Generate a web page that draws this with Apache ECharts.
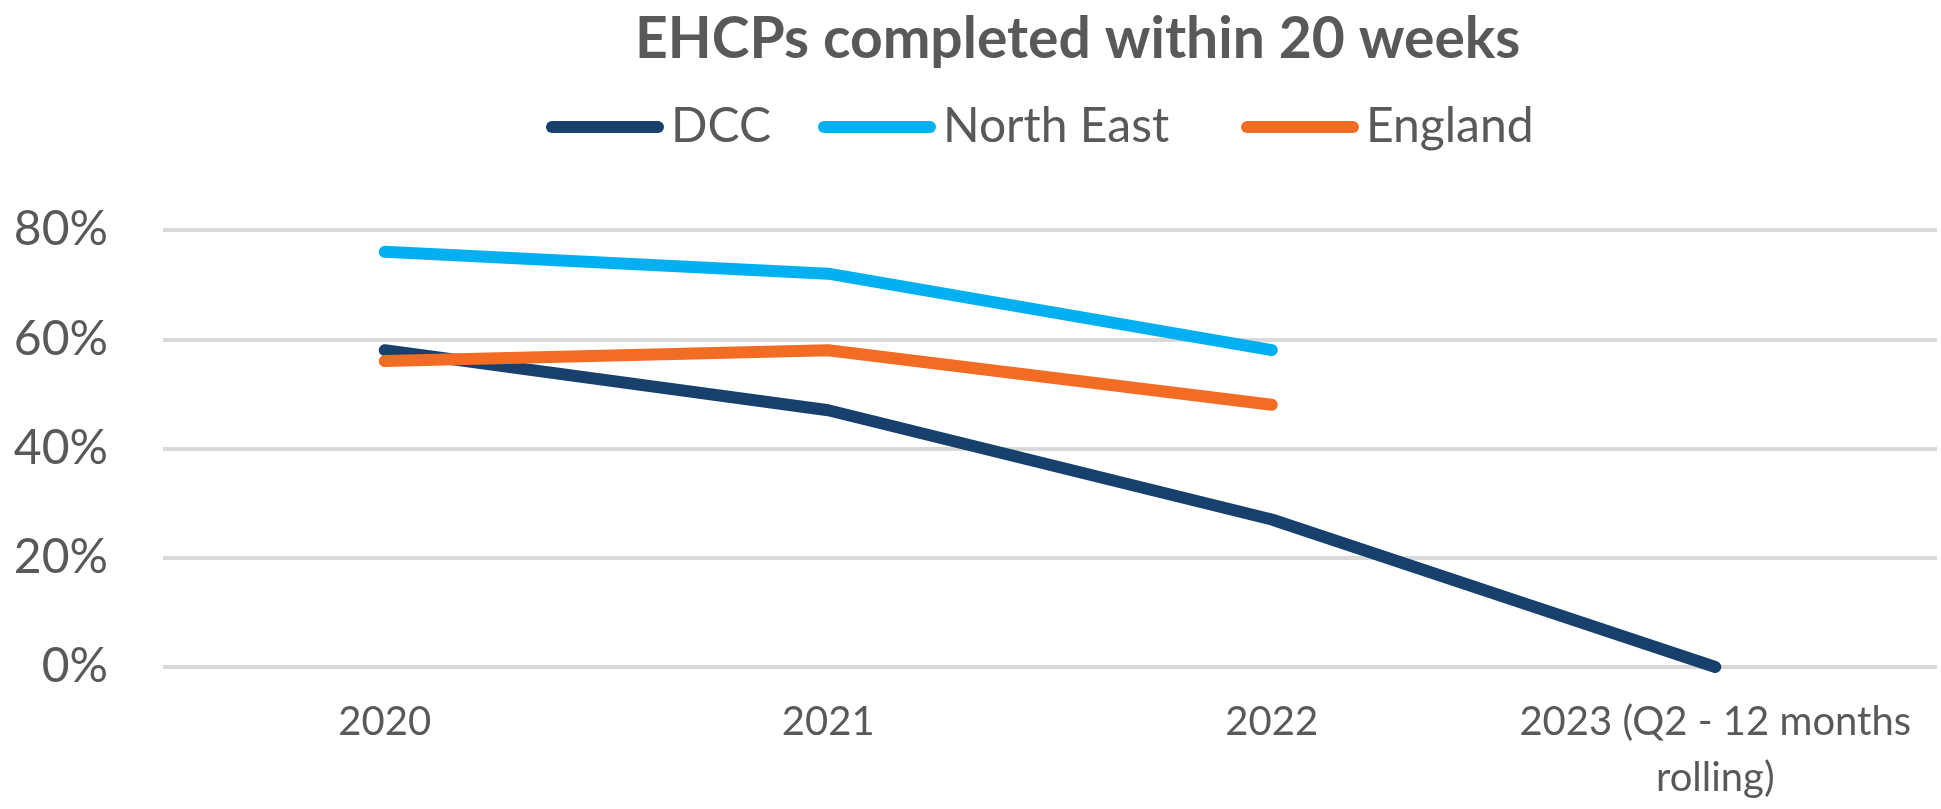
<!DOCTYPE html>
<html>
<head>
<meta charset="utf-8">
<title>EHCPs completed within 20 weeks</title>
<script src="https://cdn.jsdelivr.net/npm/echarts@6/dist/echarts.min.js"></script>
<style>
  html, body { margin: 0; padding: 0; background: #fff; }
  #main { width: 1941px; height: 809px; }
</style>
</head>
<body>
<div id="main"></div>
<script>
// chart data (percent)
const years = ['2020', '2021', '2022', '2023 (Q2 - 12 months rolling)'];
const dcc = [58, 47, 27, 0];
const northEast = [76, 72, 58, null];
const england = [56, 58, 48, null];
const yTicks = [0, 20, 40, 60, 80];

const seriesNames = ['DCC', 'North East', 'England'];
const seriesColours = ['#17406d', '#00b0f0', '#f26c23'];
// left edge of each legend entry (px)
const legendLeft = [541, 813, 1236];

const textGrey = '#595959';
const fontName = 'Lato';

const chart = echarts.init(document.getElementById('main'));

// rounded bar used as legend marker
const pill = 'path://M6,0 H112 A6,6 0 0 1 112,12 H6 A6,6 0 0 1 6,0 Z';

const makeLine = (name, data, colour) => ({
  name: name,
  type: 'line',
  data: data,
  symbol: 'none',
  connectNulls: false,
  lineStyle: { width: 12, color: colour, cap: 'round', join: 'round' },
  itemStyle: { color: colour },
  emphasis: { disabled: true }
});

// one legend per entry so each can sit where the original has it
const legends = seriesNames.map((n, i) => ({
  left: legendLeft[i],
  top: 98,
  itemWidth: 118,
  itemHeight: 12,
  icon: pill,
  textStyle: { fontFamily: fontName, fontSize: 48, color: textGrey, padding: [0, 0, 0, 2] },
  data: [n]
}));

chart.setOption({
  animation: false,
  title: {
    text: 'EHCPs completed within 20 weeks',
    left: 630,
    top: 6,
    textStyle: { fontFamily: fontName, fontWeight: 'bold', fontSize: 57, color: textGrey }
  },
  legend: legends,
  grid: { left: 163, right: 4, top: 230, bottom: 142, containLabel: false },
  xAxis: {
    type: 'category',
    data: years,
    boundaryGap: true,
    axisLine: { show: false },
    axisTick: { show: false },
    axisLabel: {
      interval: 0,
      margin: 27,
      fontFamily: fontName,
      fontSize: 40,
      lineHeight: 56,
      color: textGrey,
      formatter: v => v.replace(' rolling)', '\nrolling)')
    }
  },
  yAxis: {
    type: 'value',
    min: yTicks[0],
    max: yTicks[yTicks.length - 1],
    interval: 20,
    axisLine: { show: false },
    axisTick: { show: false },
    splitLine: { lineStyle: { color: '#d9d9d9', width: 4 } },
    axisLabel: {
      margin: 55,
      fontFamily: fontName,
      fontSize: 48,
      color: textGrey,
      formatter: v => v + '%'
    }
  },
  series: seriesNames.map((n, i) => makeLine(n, [dcc, northEast, england][i], seriesColours[i]))
});
</script>
</body>
</html>
